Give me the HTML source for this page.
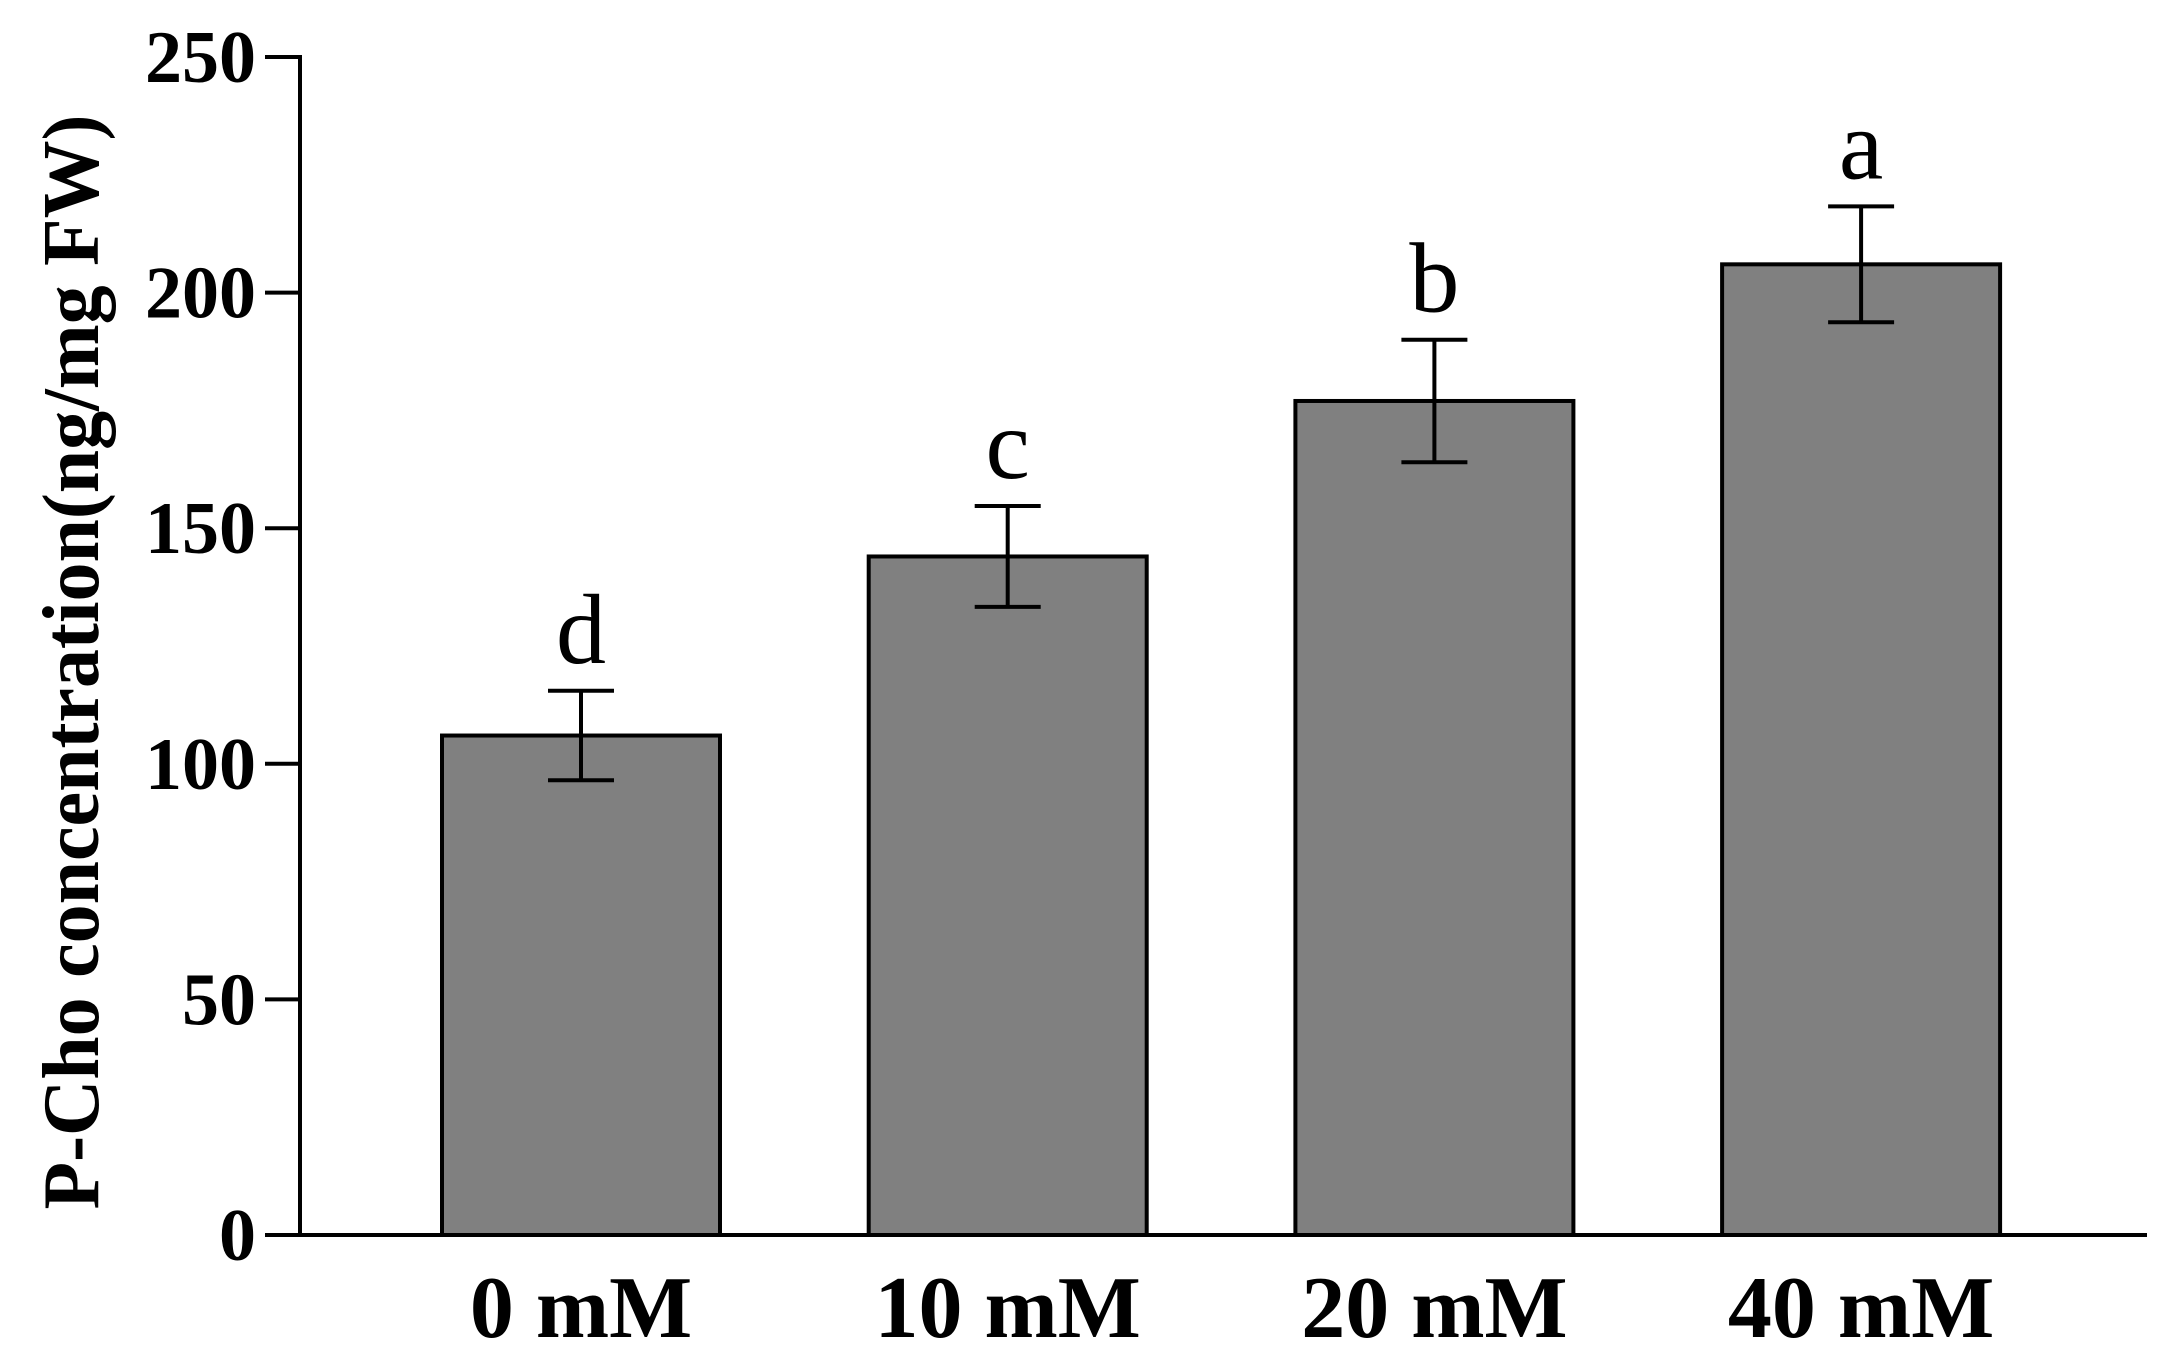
<!DOCTYPE html>
<html><head><meta charset="utf-8"><style>
html,body{margin:0;padding:0;background:#fff;}
svg{display:block;}
text{font-family:"Liberation Serif","DejaVu Serif",serif;fill:#000;}
</style></head><body>
<svg id="chart" width="2180" height="1368" viewBox="0 0 2180 1368" xmlns="http://www.w3.org/2000/svg">
<g id="axes"></g><g id="bars"></g>
<text transform="translate(98,662) rotate(-90)" text-anchor="middle" font-size="80" font-weight="bold" textLength="1095" lengthAdjust="spacingAndGlyphs">P-Cho concentration(ng/mg FW)</text>
</svg>
<script>
const categories = ["0 mM","10 mM","20 mM","40 mM"];
const values = [106, 144, 177, 206];
const errors = [9.5, 10.7, 13, 12.3];
const letters = ["d","c","b","a"];
const yTicks = [0,50,100,150,200,250];

const NS="http://www.w3.org/2000/svg";
const y0=1235, y1=57, yMax=250;
const yS=v=>y0-(v/yMax)*(y0-y1);
const xC=i=>581+i*426.7;
const bw=278;
function mk(tag,attrs,parent){const e=document.createElementNS(NS,tag);for(const k in attrs)e.setAttribute(k,attrs[k]);parent.appendChild(e);return e;}
const axes=document.getElementById('axes'), bars=document.getElementById('bars');

values.forEach((v,i)=>{
  const r=mk('rect',{x:xC(i)-bw/2,y:yS(v),width:bw,height:y0-yS(v),fill:'#808080',stroke:'#000','stroke-width':4},bars);
  
  
  const g=mk('g',{stroke:'#000','stroke-width':4},bars);
  
  
  const t=yS(v+errors[i]), b=yS(v-errors[i]), c=xC(i);
  mk('line',{x1:c,x2:c,y1:t,y2:b},g);
  mk('line',{x1:c-33,x2:c+33,y1:t,y2:t},g);
  mk('line',{x1:c-33,x2:c+33,y1:b,y2:b},g);
  const l=mk('text',{x:c,y:t-28,'text-anchor':'middle','font-size':100},bars);
  l.textContent=letters[i];
  
  
  const xl=mk('text',{x:c,y:1337,'text-anchor':'middle','font-size':88,'font-weight':'bold'},axes);
  xl.textContent=categories[i];
  
  
});
const ya=mk('line',{x1:300,x2:300,y1:y1-2,y2:y0+2,stroke:'#000','stroke-width':4},axes);


const xa=mk('line',{x1:298,x2:2147,y1:y0,y2:y0,stroke:'#000','stroke-width':4},axes);


yTicks.forEach(v=>{
  const tk=mk('line',{x1:265,x2:300,y1:yS(v),y2:yS(v),stroke:'#000','stroke-width':4},axes);
  
  
  const tl=mk('text',{x:256,y:yS(v)+25,'text-anchor':'end','font-size':74,'font-weight':'bold'},axes);
  tl.textContent=v;
  
  
});
</script>
</body></html>
